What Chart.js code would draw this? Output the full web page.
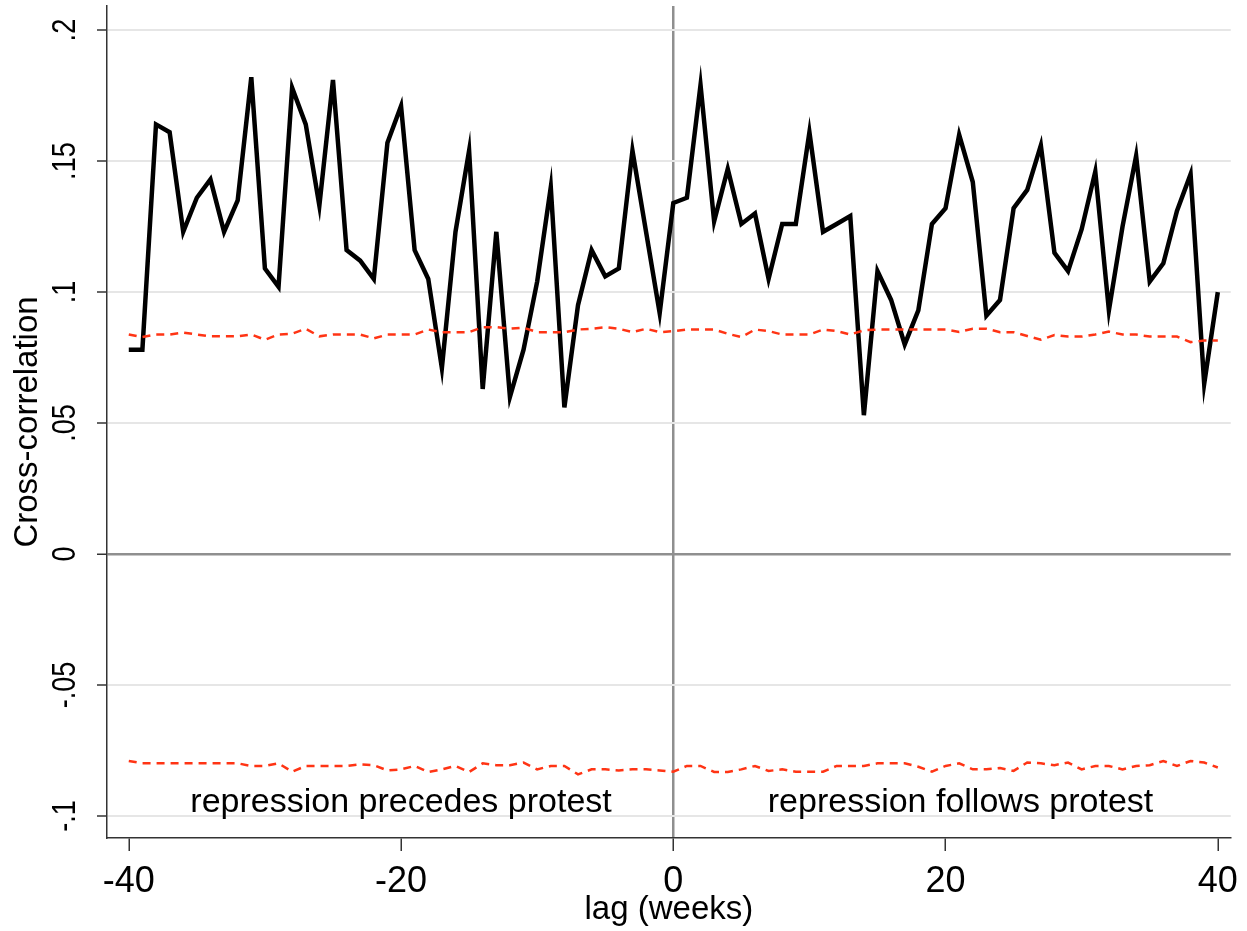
<!DOCTYPE html>
<html>
<head>
<meta charset="utf-8">
<script src="https://cdn.jsdelivr.net/npm/chart.js@4.4.1/dist/chart.umd.min.js"></script>
<style>
  html, body { margin: 0; padding: 0; background: #fff; }
  #wrap { width: 1247px; height: 931px; }
</style>
</head>
<body>
<div id="wrap"><canvas id="ccf"></canvas></div>
<script>
// lag in weeks
const lags = [-40,-39,-38,-37,-36,-35,-34,-33,-32,-31,-30,-29,-28,-27,-26,-25,-24,-23,-22,-21,
  -20,-19,-18,-17,-16,-15,-14,-13,-12,-11,-10,-9,-8,-7,-6,-5,-4,-3,-2,-1,
  0,1,2,3,4,5,6,7,8,9,10,11,12,13,14,15,16,17,18,19,
  20,21,22,23,24,25,26,27,28,29,30,31,32,33,34,35,36,37,38,39,40];

const crossCorr = [0.078,0.078,0.164,0.161,0.123,0.136,0.143,0.123,0.135,0.182,0.109,0.102,0.178,0.164,0.133,0.181,0.116,0.112,0.105,0.157,
  0.171,0.116,0.105,0.071,0.123,0.154,0.063,0.123,0.060,0.078,0.104,0.140,0.056,0.095,0.116,0.106,0.109,0.154,0.123,0.092,
  0.134,0.136,0.179,0.127,0.147,0.126,0.130,0.105,0.126,0.126,0.161,0.123,0.126,0.129,0.053,0.108,0.097,0.080,0.093,0.126,
  0.132,0.160,0.142,0.091,0.097,0.132,0.139,0.156,0.115,0.108,0.124,0.146,0.093,0.125,0.152,0.104,0.111,0.131,0.145,0.065,0.100];

const upperBand = [0.0838,0.0828,0.0838,0.0838,0.0845,0.0838,0.0831,0.0831,0.0831,0.0838,0.0818,0.0838,0.0841,0.0860,0.0831,0.0838,0.0838,0.0838,0.0823,0.0838,
  0.0838,0.0838,0.0857,0.0847,0.0847,0.0847,0.0866,0.0866,0.0860,0.0864,0.0847,0.0847,0.0847,0.0857,0.0860,0.0866,0.0860,0.0847,0.0860,0.0847,
  0.0851,0.0857,0.0857,0.0857,0.0841,0.0828,0.0857,0.0851,0.0838,0.0838,0.0838,0.0857,0.0851,0.0838,0.0854,0.0857,0.0857,0.0857,0.0857,0.0857,
  0.0857,0.0848,0.0860,0.0860,0.0847,0.0847,0.0832,0.0818,0.0836,0.0830,0.0830,0.0838,0.0849,0.0838,0.0838,0.0830,0.0830,0.0830,0.0809,0.0815,0.0815];

const lowerBand = [-0.0790,-0.0799,-0.0799,-0.0799,-0.0799,-0.0799,-0.0799,-0.0799,-0.0799,-0.0809,-0.0809,-0.0799,-0.0831,-0.0809,-0.0809,-0.0809,-0.0809,-0.0803,-0.0806,-0.0826,
  -0.0822,-0.0809,-0.0832,-0.0822,-0.0809,-0.0832,-0.0799,-0.0806,-0.0806,-0.0796,-0.0822,-0.0809,-0.0809,-0.0841,-0.0822,-0.0822,-0.0826,-0.0822,-0.0822,-0.0826,
  -0.0831,-0.0809,-0.0809,-0.0832,-0.0832,-0.0822,-0.0809,-0.0828,-0.0822,-0.0831,-0.0831,-0.0831,-0.0809,-0.0809,-0.0809,-0.0799,-0.0799,-0.0799,-0.0812,-0.0831,
  -0.0809,-0.0799,-0.0822,-0.0822,-0.0817,-0.0828,-0.0796,-0.0799,-0.0806,-0.0796,-0.0822,-0.0809,-0.0809,-0.0822,-0.0809,-0.0806,-0.0790,-0.0809,-0.0790,-0.0796,-0.0815];

const xTicks = [-40, -20, 0, 20, 40];
const yTicks = [-0.1, -0.05, 0, 0.05, 0.1, 0.15, 0.2];
const yTickLabels = ['-.1', '-.05', '0', '.05', '.1', '.15', '.2'];
const notes = ['repression precedes protest', 'repression follows protest'];

const FONT = '"Liberation Sans", Arial, Helvetica, sans-serif';
const zeroLine = '#8f8f8f';

const pts = vals => lags.map((l, i) => ({ x: l, y: vals[i] }));

// rotated (narrow) y tick labels + the two notes inside the plot
const extraText = {
  id: 'extraText',
  afterDraw(chart) {
    const ctx = chart.ctx, sx = chart.scales.x, sy = chart.scales.y;
    ctx.save();
    ctx.fillStyle = '#000';
    ctx.textAlign = 'center';
    ctx.textBaseline = 'middle';
    ctx.font = '33px ' + FONT;
    yTicks.forEach((v, i) => {
      ctx.save();
      ctx.translate(chart.chartArea.left - 41, sy.getPixelForValue(v));
      ctx.rotate(-Math.PI / 2);
      ctx.scale(0.82, 1);
      ctx.fillText(yTickLabels[i], 0, 0);
      ctx.restore();
    });
    ctx.font = '34px ' + FONT;
    const ny = sy.getPixelForValue(-0.095);
    ctx.fillText(notes[0], sx.getPixelForValue(-20), ny);
    ctx.fillText(notes[1], sx.getPixelForValue(21.1), ny);
    ctx.restore();
  }
};

new Chart(document.getElementById('ccf'), {
  type: 'line',
  data: {
    datasets: [
      { data: pts(upperBand), borderColor: '#ff3414', borderWidth: 2.5, borderDash: [8, 6], pointRadius: 0, tension: 0 },
      { data: pts(lowerBand), borderColor: '#ff3414', borderWidth: 2.5, borderDash: [8, 6], pointRadius: 0, tension: 0 },
      { data: pts(crossCorr), borderColor: '#000', borderWidth: 4.5, pointRadius: 0, tension: 0, borderJoinStyle: 'miter' }
    ]
  },
  options: {
    responsive: true,
    maintainAspectRatio: false,
    devicePixelRatio: 1,
    animation: false,
    layout: { padding: { top: 6, right: 15, left: 0, bottom: 0 } },
    plugins: { legend: { display: false }, tooltip: { enabled: false } },
    scales: {
      x: {
        type: 'linear',
        min: -41.6,
        max: 40.95,
        afterBuildTicks: s => { s.ticks = xTicks.map(v => ({ value: v })); },
        afterFit: s => { s.height = 93; },
        ticks: { font: { size: 36, family: FONT }, color: '#000', padding: 9, maxRotation: 0, callback: v => String(v) },
        grid: {
          color: c => (c.tick && c.tick.value === 0) ? zeroLine : 'rgba(0,0,0,0)',
          lineWidth: 2.5,
          tickColor: '#333',
          tickLength: 13,
          tickWidth: 1.5
        },
        border: { color: '#333', width: 1.5 },
        title: { display: true, text: 'lag (weeks)', color: '#000', font: { size: 33, family: FONT }, padding: { top: 0, bottom: 1 } }
      },
      y: {
        min: -0.1084,
        max: 0.2092,
        afterBuildTicks: s => { s.ticks = yTicks.map(v => ({ value: v })); },
        afterFit: s => { s.width = 107; },
        ticks: { display: false },
        grid: {
          color: c => (c.tick && c.tick.value === 0) ? zeroLine : '#e6e6e6',
          lineWidth: c => (c.tick && c.tick.value === 0) ? 2.5 : 2,
          tickColor: '#333',
          tickLength: 10,
          tickWidth: 1.5
        },
        border: { color: '#333', width: 1.5 },
        title: { display: true, text: 'Cross-correlation', color: '#000', font: { size: 33, family: FONT }, padding: { top: 8, bottom: 0 } }
      }
    }
  },
  plugins: [extraText]
});
</script>
</body>
</html>
